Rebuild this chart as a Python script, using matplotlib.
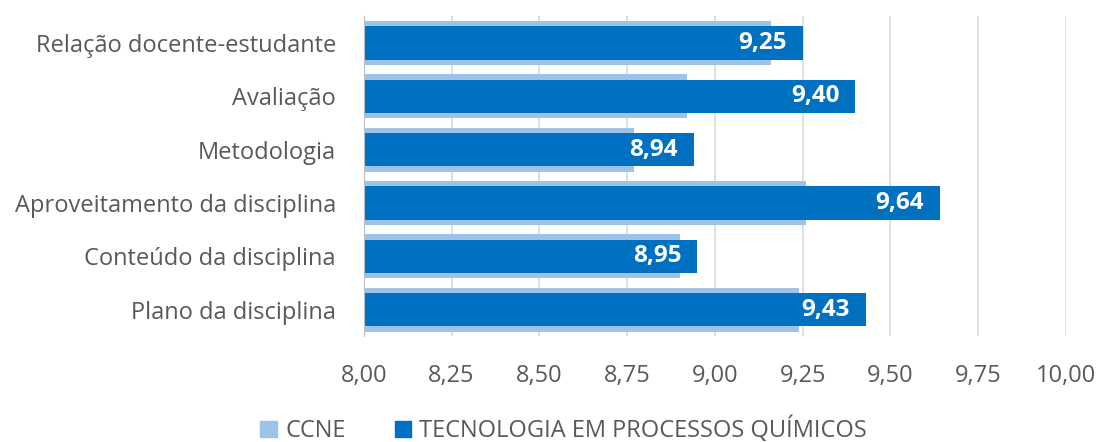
import matplotlib
matplotlib.use("Agg")
import matplotlib.pyplot as plt
from matplotlib.patches import Patch

categories = ["Relação docente-estudante", "Avaliação", "Metodologia",
              "Aproveitamento da disciplina", "Conteúdo da disciplina", "Plano da disciplina"]
ccne = [9.16, 8.92, 8.77, 9.26, 8.90, 9.24]
curso = [9.25, 9.40, 8.94, 9.64, 8.95, 9.43]
xticks = [8.00, 8.25, 8.50, 8.75, 9.00, 9.25, 9.50, 9.75, 10.00]
series_names = ["CCNE", "TECNOLOGIA EM PROCESSOS QUÍMICOS"]

light = "#9DC3E6"
dark = "#0070C0"
txt = "#595959"

plt.rcParams['font.family'] = ['Open Sans', 'DejaVu Sans']

fig = plt.figure(figsize=(10.99, 4.42), dpi=100)
ax = fig.add_axes([0.331, 0.239, 0.639, 0.724])

y = list(range(len(categories)))
ax.barh(y, [v - 8 for v in ccne], left=8, height=0.82, color=light, zorder=2)
ax.barh(y, [v - 8 for v in curso], left=8, height=0.62, color=dark, zorder=3)

for yi, v in zip(y, curso):
    ax.text(v - 0.045, yi, f"{v:.2f}".replace(".", ","), ha="right", va="center",
            color="white", fontsize=17.5, fontweight="bold", zorder=4)

ax.set_xlim(8, 10)
ax.set_ylim(len(categories) - 0.5, -0.5)
ax.set_xticks(xticks)
ax.set_xticklabels([f"{t:.2f}".replace(".", ",") for t in xticks])
ax.set_yticks(y)
ax.set_yticklabels(categories)
ax.tick_params(axis="both", length=0, colors=txt, labelsize=17)
ax.tick_params(axis="x", pad=20)
ax.tick_params(axis="y", pad=20)
ax.grid(axis="x", color="#D9D9D9", linewidth=1.2, zorder=0)
for s in ["top", "right", "bottom"]:
    ax.spines[s].set_visible(False)
ax.spines["left"].set_color("#BFBFBF")
ax.spines["left"].set_zorder(5)

handles = [Patch(color=light), Patch(color=dark)]
fig.legend(handles, series_names, loc="center", bbox_to_anchor=(0.513, 0.027),
           ncol=2, frameon=False, fontsize=17, labelcolor=txt,
           handlelength=0.7, handleheight=0.7, handletextpad=0.35, columnspacing=2.08)

fig.savefig("out.png", dpi=100)
